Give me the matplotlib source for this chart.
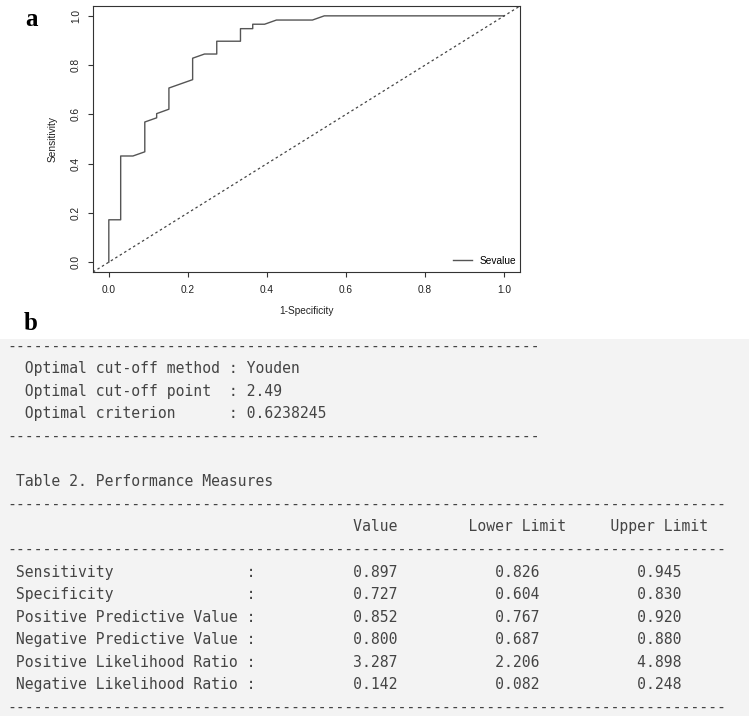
import matplotlib
matplotlib.use("Agg")
import matplotlib.pyplot as plt
from matplotlib.patches import Rectangle

# ---------------- data ----------------
fpr = [0.000, 0.000, 0.030, 0.030, 0.061, 0.091, 0.091, 0.121, 0.121, 0.152,
       0.152, 0.212, 0.212, 0.242, 0.273, 0.273, 0.333, 0.333, 0.364, 0.364,
       0.394, 0.424, 0.515, 0.545, 1.000]
tpr = [0.000, 0.172, 0.172, 0.431, 0.431, 0.448, 0.569, 0.586, 0.603, 0.621,
       0.707, 0.741, 0.828, 0.845, 0.845, 0.897, 0.897, 0.948, 0.948, 0.966,
       0.966, 0.983, 0.983, 1.000, 1.000]
series_name = "Sevalue"
tick_vals = [0.0, 0.2, 0.4, 0.6, 0.8, 1.0]
tick_labels = ["0.0", "0.2", "0.4", "0.6", "0.8", "1.0"]

cutoff_method = "Youden"
cutoff_point = "2.49"
cutoff_criterion = "0.6238245"

measures = ["Sensitivity", "Specificity", "Positive Predictive Value",
            "Negative Predictive Value", "Positive Likelihood Ratio",
            "Negative Likelihood Ratio"]
values = [0.897, 0.727, 0.852, 0.800, 3.287, 0.142]
lower = [0.826, 0.604, 0.767, 0.687, 2.206, 0.082]
upper = [0.945, 0.830, 0.920, 0.880, 4.898, 0.248]

# ---------------- figure ----------------
W, H = 749, 716
fig = plt.figure(figsize=(W / 100, H / 100), dpi=100)
fig.patch.set_facecolor("white")

def fx(px):
    return px / W

def fy(py):
    return 1 - py / H

# gray background of panel b
fig.patches.append(Rectangle((0, 0), 1, fy(339), transform=fig.transFigure,
                             facecolor="#f3f3f3", edgecolor="none", zorder=0))

# ---------------- panel a: ROC ----------------
ax = fig.add_axes([fx(93), fy(272), (520 - 93) / W, (272 - 6) / H])
sans = "Liberation Sans"
ax.plot(fpr, tpr, color="#555555", lw=1.0, label=series_name)
ax.plot([-0.04, 1.04], [-0.04, 1.04], color="#444444", lw=0.9,
        linestyle=(0, (2, 2.2)))
ax.set_xlim(-0.04, 1.04)
ax.set_ylim(-0.04, 1.04)
ax.set_xticks(tick_vals)
ax.set_xticklabels(tick_labels, family=sans, fontsize=7.3, color="#222222")
ax.set_yticks(tick_vals)
ax.set_yticklabels(tick_labels, family=sans, fontsize=7.3, color="#222222",
                   rotation=90, va="center")
ax.tick_params(axis="x", length=3.6, width=0.8, pad=6, color="#333333")
ax.tick_params(axis="y", length=3.6, width=0.8, pad=5, color="#333333")
for s in ax.spines.values():
    s.set_linewidth(0.8)
    s.set_color("#333333")
ax.set_xlabel("1-Specificity", family=sans, fontsize=7.3, color="#222222",
              labelpad=8)
ax.set_ylabel("Sensitivity", family=sans, fontsize=7.3, color="#222222",
              labelpad=10)
ax.legend(loc="center right", bbox_to_anchor=(0.992, 0.0425), frameon=False,
          borderpad=0, borderaxespad=0, handlelength=1.9, handletextpad=0.8,
          prop={"family": sans, "size": 7.3})

# panel letters
fig.text(fx(32), fy(20), "a", family="Liberation Serif", fontweight="bold",
         fontsize=18, ha="center", va="center")
fig.text(fx(31), fy(323), "b", family="Liberation Serif", fontweight="bold",
         fontsize=18, ha="center", va="center")

# ---------------- panel b: text output ----------------
d60 = "-" * 60
d81 = "-" * 81
lines = [
    d60,
    "  {:<22} : {}".format("Optimal cut-off method", cutoff_method),
    "  {:<22} : {}".format("Optimal cut-off point", cutoff_point),
    "  {:<22} : {}".format("Optimal criterion", cutoff_criterion),
    d60,
    "",
    " Table 2. Performance Measures",
    d81,
    "{:<39}{:<13}{:<16}{}".format("", "Value", "Lower Limit", "Upper Limit"),
    d81,
]
for m, v, lo, hi in zip(measures, values, lower, upper):
    lines.append(" {:<25} :{}{:.3f}{}{:.3f}{}{:.3f}".format(
        m, " " * 11, v, " " * 11, lo, " " * 11, hi))
lines.append(d81)

mono = "DejaVu Sans Mono"
base0 = 350.5
step = 22.6
for k, line in enumerate(lines):
    if not line:
        continue
    fig.text(fx(7), fy(base0 + step * k), line, family=mono, fontsize=10.64,
             color="#444444", ha="left", va="baseline")

fig.savefig("out.png", dpi=100)
